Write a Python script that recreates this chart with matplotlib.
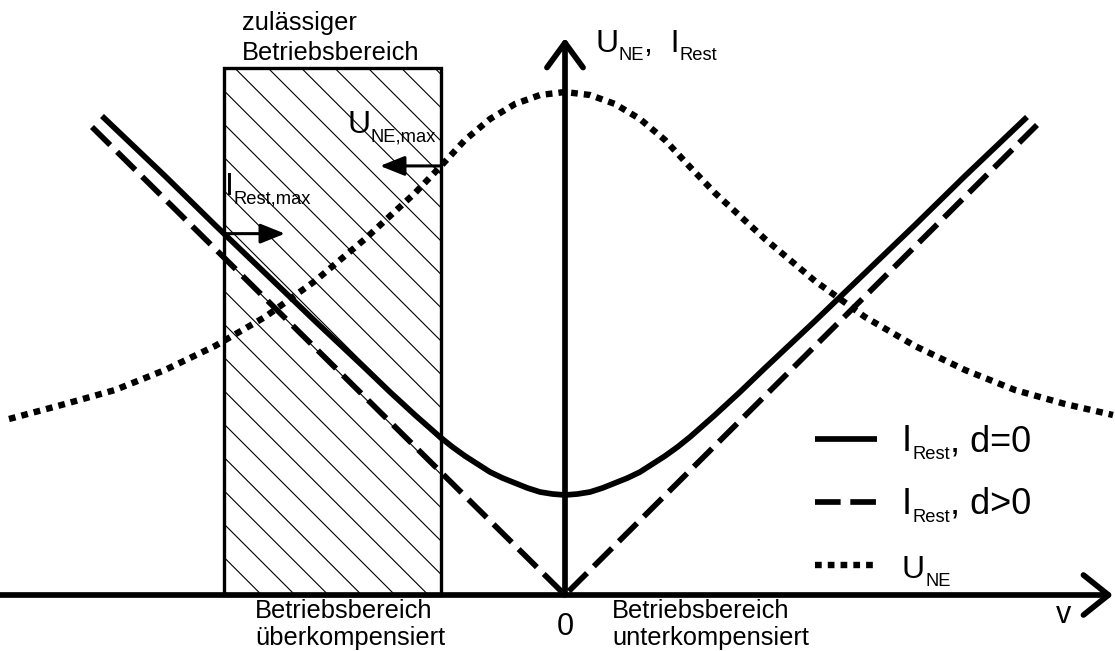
import numpy as np
import matplotlib
matplotlib.use("Agg")
import matplotlib.pyplot as plt
import matplotlib.transforms as mtransforms
from matplotlib.patches import Rectangle

plt.rcParams['font.family'] = ['Liberation Sans', 'DejaVu Sans']
plt.rcParams['hatch.linewidth'] = 0.4

# detuning v and the curve heights (arbitrary units)
v_rest = [-4.63, -4.0, -3.5, -3.0, -2.5, -2.0, -1.75, -1.5, -1.375, -1.25, -1.125, -1.0, -0.875,
          -0.75, -0.625, -0.5, -0.375, -0.25, -0.125, 0.0,
          0.125, 0.25, 0.375, 0.5, 0.625, 0.75, 0.875, 1.0, 1.125, 1.25, 1.375, 1.5, 1.75,
          2.0, 2.5, 3.0, 3.5, 4.0, 4.62]
i_rest_d0 = [4.79, 4.19, 3.70, 3.22, 2.74, 2.27, 2.03, 1.80, 1.69, 1.58, 1.48, 1.39, 1.31,
             1.23, 1.17, 1.12, 1.07, 1.03, 1.01, 1.00,
             1.01, 1.03, 1.07, 1.12, 1.17, 1.23, 1.31, 1.39, 1.48, 1.58, 1.69, 1.80, 2.03,
             2.27, 2.74, 3.22, 3.70, 4.19, 4.78]

v_rest_d = [-4.73, 0.0, 4.72]
i_rest_d = [4.68, 0.0, 4.70]

v_une = [-5.56, -5.0, -4.5, -4.0, -3.5, -3.0, -2.5, -2.0, -1.5, -1.25, -1.0, -0.75, -0.5, -0.25, 0.0,
         0.25, 0.5, 0.75, 1.0, 1.25, 1.5, 2.0, 2.5, 3.0, 3.5, 4.0, 4.5, 5.0, 5.48]
u_ne = [1.76, 1.91, 2.05, 2.25, 2.49, 2.78, 3.14, 3.56, 4.02, 4.28, 4.55, 4.76, 4.91, 5.00, 5.03,
        5.00, 4.91, 4.76, 4.55, 4.28, 4.02, 3.56, 3.14, 2.78, 2.49, 2.25, 2.05, 1.91, 1.80]

# zulaessiger Betriebsbereich (overcompensated side)
zone_left = -3.41
zone_right = -1.24
zone_top = 5.27

LW = 2.05

fig = plt.figure(figsize=(5.575, 3.255), dpi=200)
ax = fig.add_axes([0, 0, 1, 1])
ax.set_xlim(-5.65, 5.50)
ax.set_ylim(-0.56, 5.95)
ax.axis('off')


def sub_text(x, y, parts, size=11.5, sub_size=6.6, drop=2.9):
    # draws main text and subscripts one after the other on a common baseline
    r = fig.canvas.get_renderer()
    dx = 0.0
    for s, is_sub in parts:
        tr = mtransforms.offset_copy(ax.transData, fig=fig, x=dx,
                                     y=-drop if is_sub else 0, units='points')
        t = ax.text(x, y, s, fontsize=sub_size if is_sub else size,
                    va='baseline', ha='left', transform=tr)
        dx += t.get_window_extent(r).width * 72 / fig.dpi


# hatched operating zone
zone = Rectangle((zone_left, 0), zone_right - zone_left, zone_top,
                 facecolor='white', edgecolor='black', hatch='\\\\', lw=1.2, zorder=1)
ax.add_patch(zone)

# curves
ax.plot(v_rest, i_rest_d0, color='black', lw=LW, solid_capstyle='butt', zorder=3)
ax.plot(v_rest_d, i_rest_d, color='black', lw=LW, dashes=(4.5, 1.7), zorder=3)
ax.plot(v_une, u_ne, color='black', lw=2.3, dashes=(1.05, 0.95), zorder=3)

# axes with open arrow heads
ax.annotate('', xy=(5.48, 0), xytext=(-5.65, 0),
            arrowprops=dict(arrowstyle='->,head_length=0.9,head_width=0.72', lw=LW,
                            color='black', shrinkA=0, shrinkB=0, mutation_scale=10), zorder=4)
ax.annotate('', xy=(0, 5.57), xytext=(0, 0),
            arrowprops=dict(arrowstyle='->,head_length=0.89,head_width=0.65', lw=LW,
                            color='black', shrinkA=0, shrinkB=0, mutation_scale=10), zorder=4)

# limit markers at the zone edges
u_max = np.interp(zone_right, v_une, u_ne)
i_max = np.interp(zone_left, v_rest, i_rest_d0)
ax.annotate('', xy=(zone_right - 0.61, u_max), xytext=(zone_right, u_max),
            arrowprops=dict(arrowstyle='-|>,head_length=0.75,head_width=0.3', lw=1.1,
                            color='black', shrinkA=0, shrinkB=0, mutation_scale=10), zorder=5)
ax.annotate('', xy=(zone_left + 0.61, i_max), xytext=(zone_left, i_max),
            arrowprops=dict(arrowstyle='-|>,head_length=0.75,head_width=0.3', lw=1.1,
                            color='black', shrinkA=0, shrinkB=0, mutation_scale=10), zorder=5)

sub_text(-2.18, 4.62, [('U', False), ('NE,max', True)])
sub_text(-3.40, 4.00, [('I', False), ('Rest,max', True)])
sub_text(0.30, 5.43, [('U', False), ('NE', True), (',  I', False), ('Rest', True)])

# texts
ax.text(-3.23, 5.65, 'zulässiger', fontsize=9.2, va='baseline')
ax.text(-3.23, 5.35, 'Betriebsbereich', fontsize=9.2, va='baseline')
ax.text(-3.10, -0.23, 'Betriebsbereich', fontsize=9.2, va='baseline')
ax.text(-3.10, -0.50, 'überkompensiert', fontsize=9.2, va='baseline')
ax.text(0.47, -0.23, 'Betriebsbereich', fontsize=9.2, va='baseline')
ax.text(0.47, -0.50, 'unterkompensiert', fontsize=9.2, va='baseline')
ax.text(0.0, -0.40, '0', fontsize=11, ha='center', va='baseline')
ax.text(4.99, -0.28, 'v', fontsize=11, ha='center', va='baseline')

# legend
leg_x = [2.50, 3.12]
ax.plot(leg_x, [1.56, 1.56], color='black', lw=LW, solid_capstyle='butt')
ax.plot(leg_x, [0.93, 0.93], color='black', lw=LW, dashes=(4.5, 1.7))
ax.plot(leg_x, [0.30, 0.30], color='black', lw=2.3, dashes=(1.05, 0.95))
sub_text(3.37, 1.44, [('I', False), ('Rest', True), (', d=0', False)], size=13)
sub_text(3.37, 0.81, [('I', False), ('Rest', True), (', d>0', False)], size=13)
sub_text(3.37, 0.17, [('U', False), ('NE', True)])

fig.savefig('out.png', dpi=200, facecolor='white')
